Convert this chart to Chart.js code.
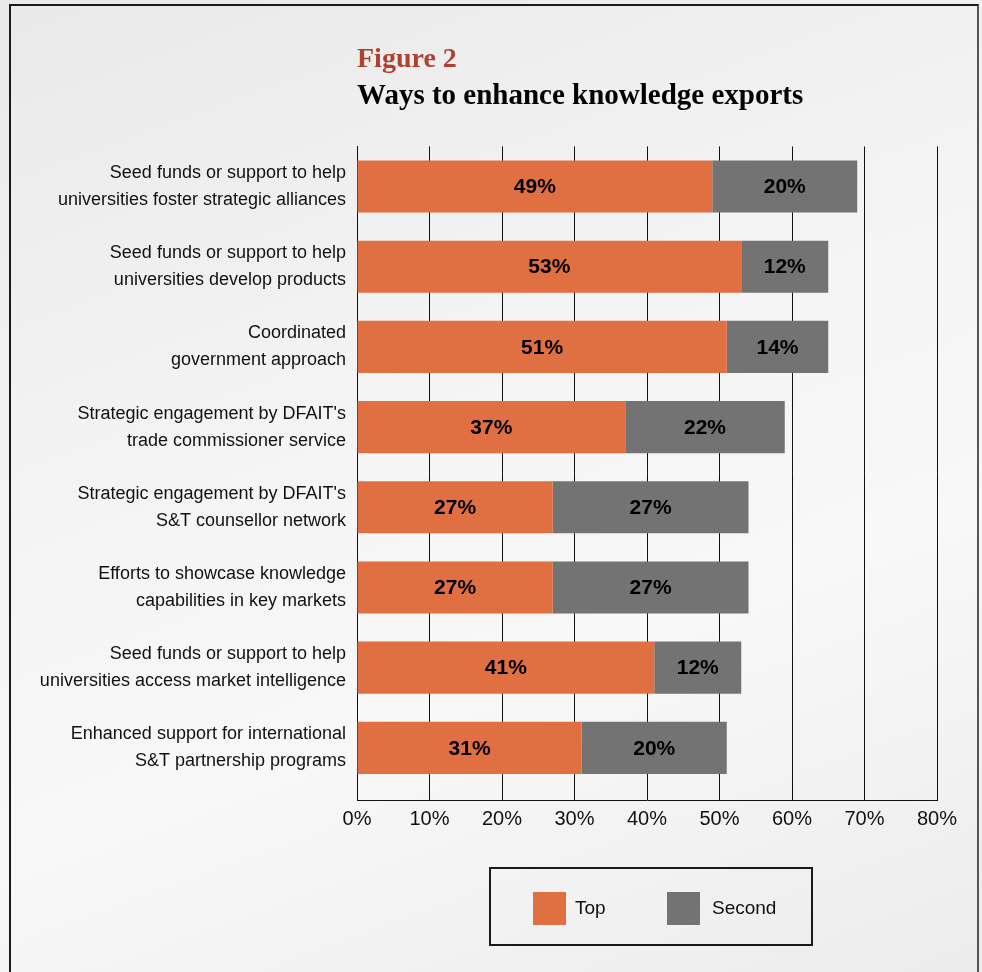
<!DOCTYPE html>
<html>
<head>
<meta charset="utf-8">
<script src="https://cdn.jsdelivr.net/npm/chart.js@4.4.1/dist/chart.umd.min.js"></script>
<style>
  html, body { margin: 0; padding: 0; }
  body {
    width: 982px; height: 972px; overflow: hidden; position: relative;
    background: linear-gradient(160deg, #e9e9e9 0%, #f4f4f4 40%, #f8f8f8 65%, #ececec 100%);
  }
  #frame {
    position: absolute; left: 9px; top: 4px; width: 966px; height: 990px;
    border: 2px solid #1a1a1a; border-right-color: #555;
  }
  #wrap { position: absolute; left: 0; top: 0; width: 982px; height: 972px; }
</style>
</head>
<body>
<div id="frame"></div>
<div id="wrap"><canvas id="chart"></canvas></div>
<script>
var categories = [
    ['Seed funds or support to help', 'universities foster strategic alliances'],
    ['Seed funds or support to help', 'universities develop products'],
    ['Coordinated', 'government approach'],
    ["Strategic engagement by DFAIT's", 'trade commissioner service'],
    ["Strategic engagement by DFAIT's", 'S&T counsellor network'],
    ['Efforts to showcase knowledge', 'capabilities in key markets'],
    ['Seed funds or support to help', 'universities access market intelligence'],
    ['Enhanced support for international', 'S&T partnership programs']
];
var topValues = [49, 53, 51, 37, 27, 27, 41, 31];
var secondValues = [20, 12, 14, 22, 27, 27, 12, 20];
var xTicks = [0, 10, 20, 30, 40, 50, 60, 70, 80];

var ORANGE = '#e07042';
var GREY = '#737373';
var sans = '"Liberation Sans", Arial, sans-serif';

// percentages printed in the middle of each segment
var barLabels = {
    id: 'barLabels',
    afterDatasetsDraw: function(chart){
        var ctx = chart.ctx;
        ctx.save();
        ctx.font = 'bold 21px ' + sans;
        ctx.fillStyle = '#000';
        ctx.textAlign = 'center';
        ctx.textBaseline = 'middle';
        chart.data.datasets.forEach(function(ds, i){
            chart.getDatasetMeta(i).data.forEach(function(bar, j){
                var x = (bar.x + bar.base) / 2;
                ctx.fillText(ds.data[j] + '%', x, bar.y + 1);
            });
        });
        ctx.restore();
    }
};

// boxed legend under the axis
var boxLegend = {
    id: 'boxLegend',
    afterDraw: function(chart){
        var ctx = chart.ctx;
        var left = 490, top = 868, w = 322, h = 77;
        ctx.save();
        ctx.strokeStyle = '#1a1a1a';
        ctx.lineWidth = 2;
        ctx.strokeRect(left, top, w, h);
        ctx.font = '19px ' + sans;
        ctx.textBaseline = 'middle';
        var items = [[533, 575], [667, 712]];
        chart.data.datasets.forEach(function(ds, i){
            ctx.fillStyle = ds.backgroundColor;
            ctx.fillRect(items[i][0], top + 24, 33, 33);
            ctx.fillStyle = '#111';
            ctx.fillText(ds.label, items[i][1], top + 41);
        });
        ctx.restore();
    }
};

var ctx = document.getElementById('chart').getContext('2d');
var myBarChart = new Chart(ctx, {
    type: 'bar',
    data: {
        labels: categories,
        datasets: [
            {label: 'Top', data: topValues, backgroundColor: ORANGE},
            {label: 'Second', data: secondValues, backgroundColor: GREY}
        ]
    },
    options: {
        indexAxis: 'y',
        responsive: true,
        maintainAspectRatio: false,
        animation: false,
        categoryPercentage: 1,
        barPercentage: 0.65,
        layout: {padding: {top: 43, right: 45, bottom: 134, left: 0}},
        plugins: {
            legend: {display: false},
            tooltip: {enabled: false},
            title: {
                display: true,
                text: 'Figure 2',
                align: 'start',
                fullSize: false,
                color: '#ad4232',
                font: {family: '"Liberation Serif", "Times New Roman", serif', size: 28, weight: 'bold'},
                padding: {top: 0, bottom: 3}
            },
            subtitle: {
                display: true,
                text: 'Ways to enhance knowledge exports',
                align: 'start',
                fullSize: false,
                color: '#000',
                font: {family: '"Liberation Serif", "Times New Roman", serif', size: 29, weight: 'bold'},
                padding: {top: 0, bottom: 32}
            }
        },
        scales: {
            x: {
                stacked: true,
                min: 0,
                max: 80,
                afterBuildTicks: function(scale){
                    scale.ticks = xTicks.map(function(v){ return {value: v}; });
                },
                ticks: {
                    color: '#111',
                    font: {family: sans, size: 20},
                    padding: 7,
                    callback: function(v){ return v + '%'; }
                },
                grid: {color: '#111', lineWidth: 1, drawTicks: false},
                border: {color: '#111', width: 1}
            },
            y: {
                stacked: true,
                afterFit: function(scale){ scale.width = 357; },
                // a little extra room below the last bar, as in the original
                afterBuildTicks: function(scale){ scale._valueRange = categories.length + 0.15; },
                ticks: {
                    color: '#111',
                    font: {family: sans, size: 18, lineHeight: 1.5},
                    padding: 11
                },
                grid: {display: false, drawTicks: false},
                border: {color: '#111', width: 1}
            }
        }
    },
    plugins: [barLabels, boxLegend]
});
</script>
</body>
</html>
